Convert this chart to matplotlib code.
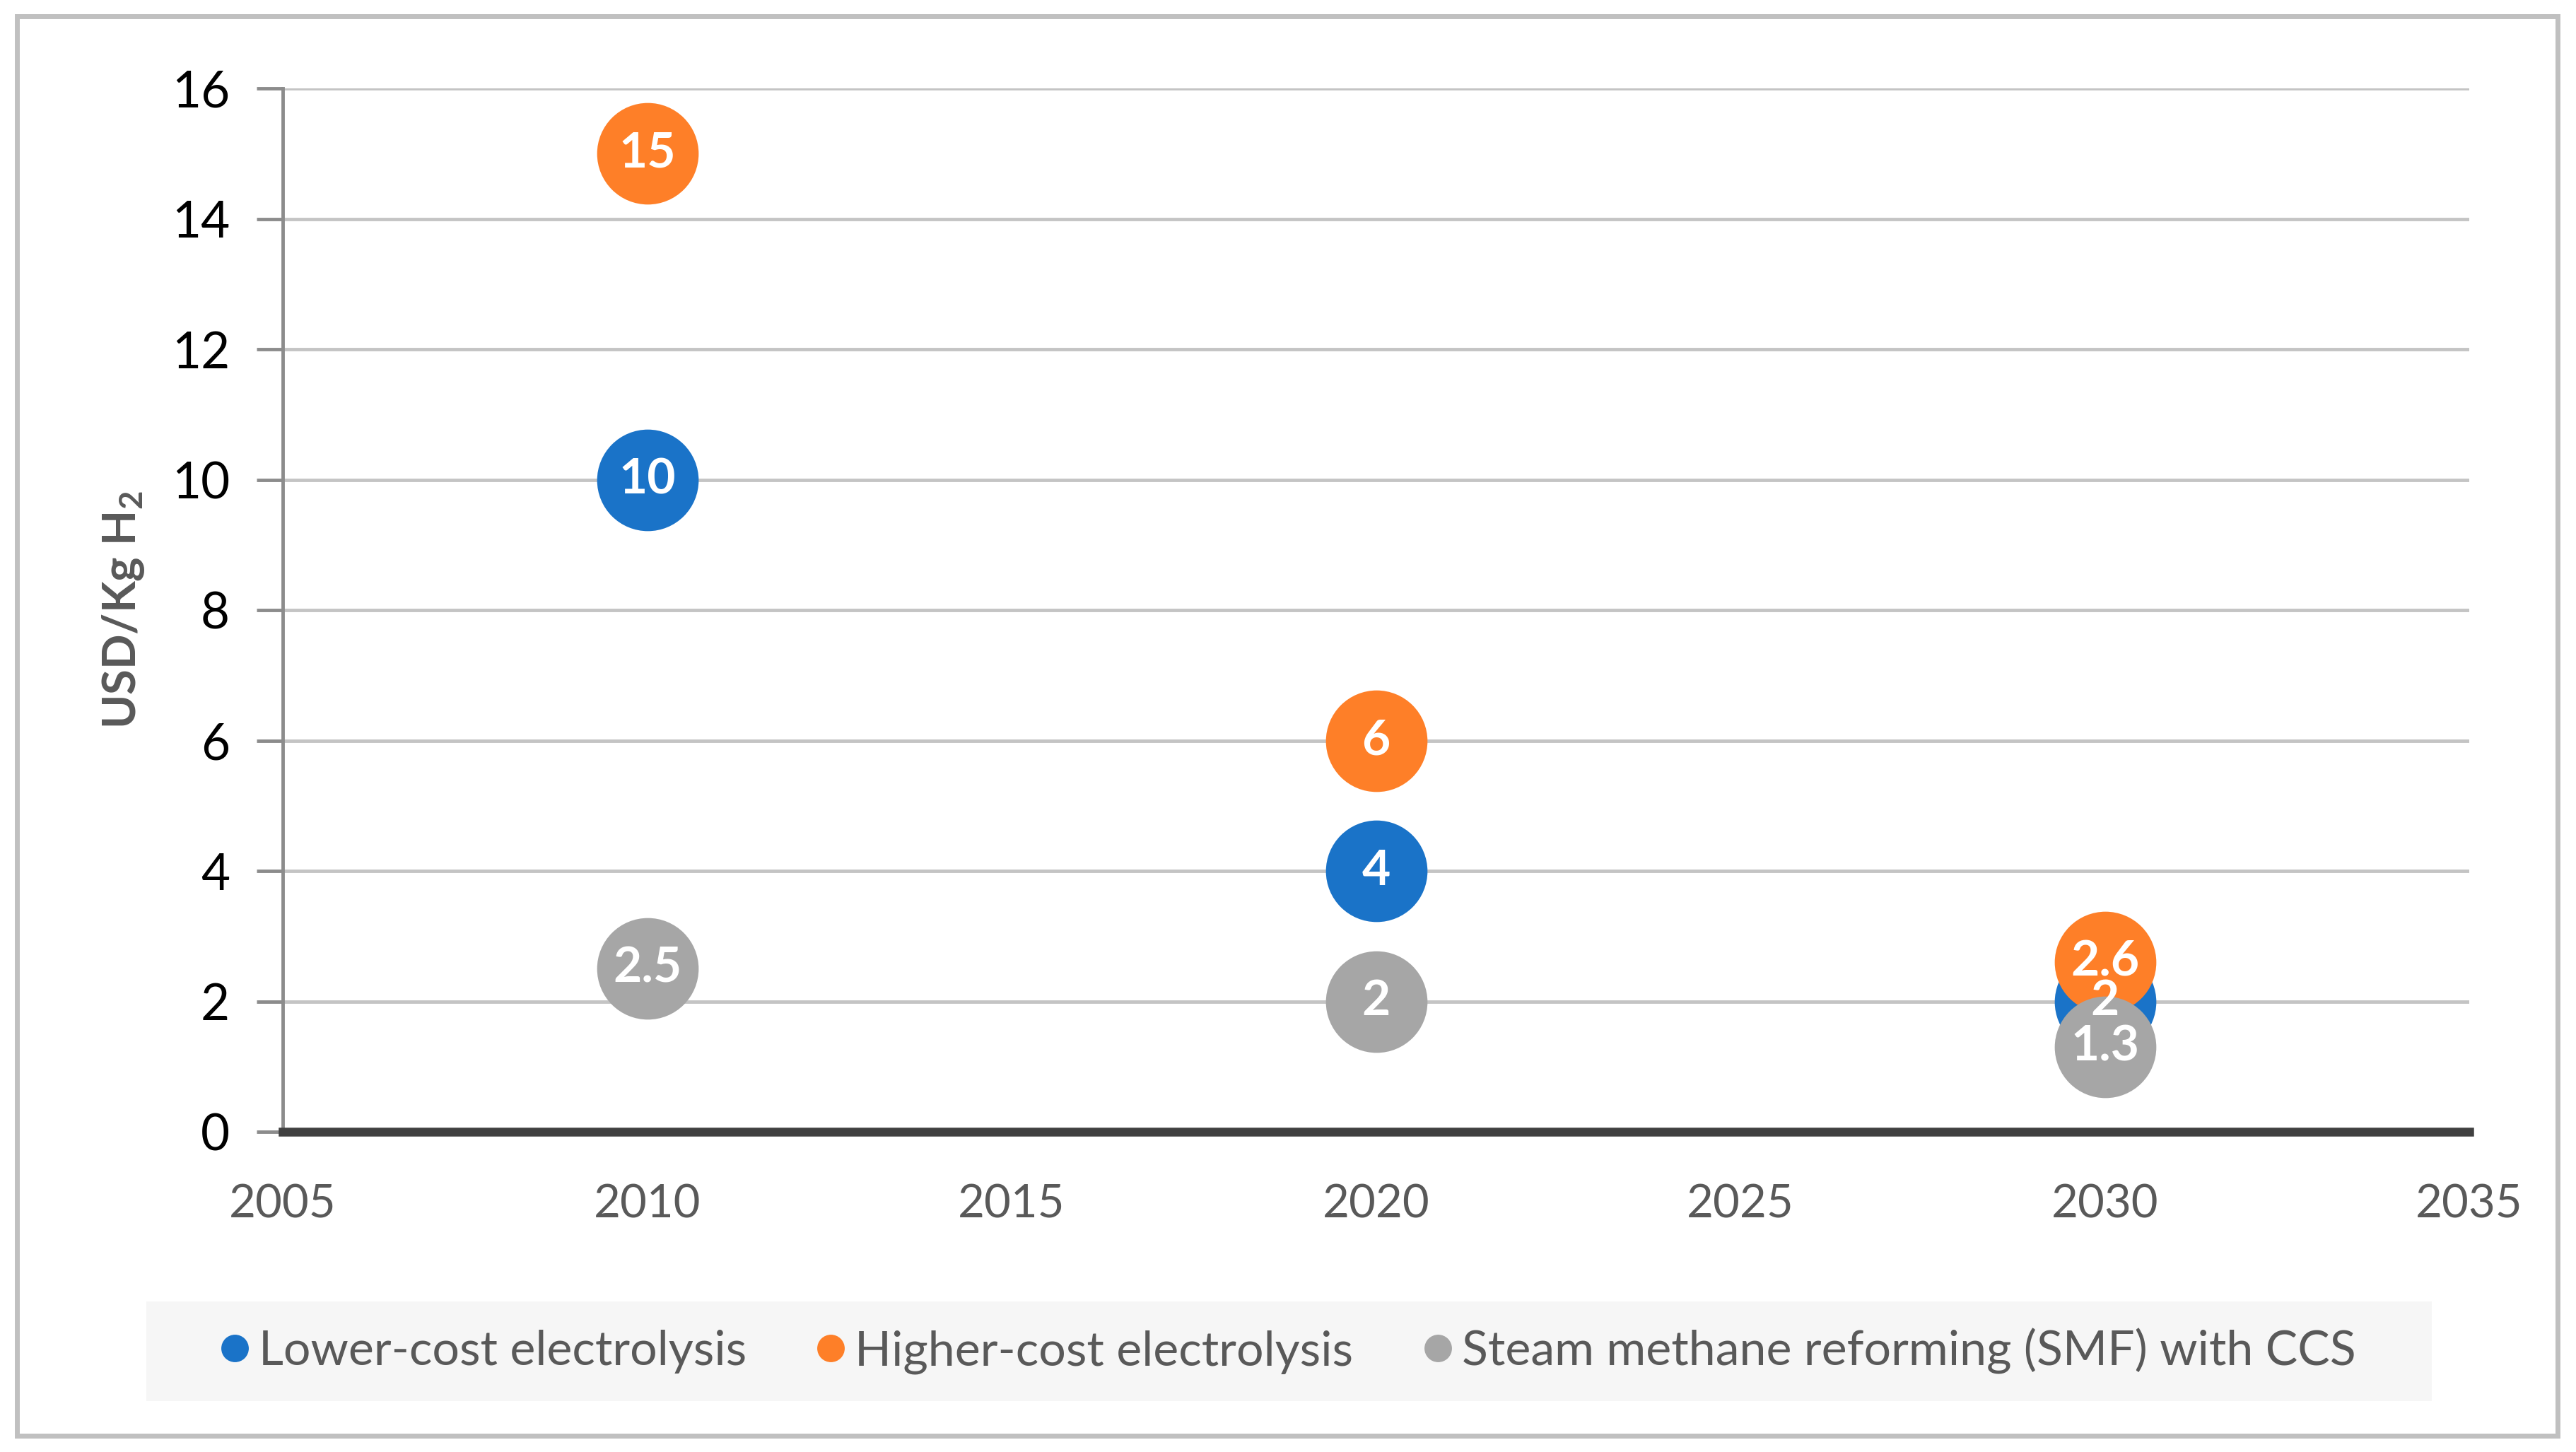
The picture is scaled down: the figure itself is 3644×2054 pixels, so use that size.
import matplotlib
matplotlib.use("Agg")
from matplotlib import pyplot as plt
from matplotlib.patches import Rectangle
from matplotlib.lines import Line2D

plt.rcParams['font.family'] = ['Lato', 'DejaVu Sans']
plt.rcParams['mathtext.fontset'] = 'custom'
plt.rcParams['mathtext.rm'] = 'Lato'
plt.rcParams['mathtext.bf'] = 'Lato:bold'

# data
years = [2010, 2020, 2030]
lower_cost = [10, 4, 2]
higher_cost = [15, 6, 2.6]
smr_ccs = [2.5, 2, 1.3]
series_names = ["Lower-cost electrolysis", "Higher-cost electrolysis",
                "Steam methane reforming (SMF) with CCS"]
colors = ["#1a73c8", "#fe7f28", "#a6a6a6"]
xticks = [2005, 2010, 2015, 2020, 2025, 2030, 2035]
yticks = [0, 2, 4, 6, 8, 10, 12, 14, 16]

fig = plt.figure(figsize=(36.44, 20.54), dpi=100)
ax = fig.add_axes([0.1098, 0.2205, 0.8488, 0.7186])

all_series = [lower_cost, higher_cost, smr_ccs]
for i, (vals, col) in enumerate(zip(all_series, colors)):
    ax.scatter(years, vals, s=10700, color=col, zorder=3 + i, linewidths=0)
for vals in all_series:
    for x, y in zip(years, vals):
        ax.text(x, y, f"{y:g}", ha="center", va="center", color="white",
                fontsize=50, fontweight="bold", zorder=10)

ax.set_xlim(2005, 2035)
ax.set_ylim(0, 16)
ax.set_xticks(xticks)
ax.set_yticks(yticks)
ax.grid(axis="y", color="#c4c4c4", linewidth=3.5)
ax.set_axisbelow(True)
for s in ["top", "right"]:
    ax.spines[s].set_visible(False)
ax.spines["left"].set_color("#8c8c8c")
ax.spines["left"].set_linewidth(3.5)
ax.spines["bottom"].set_color("#404040")
ax.spines["bottom"].set_linewidth(9)
ax.spines["bottom"].set_zorder(20)
ax.tick_params(axis="y", length=27, width=3.5, color="#8c8c8c", labelsize=51,
               labelcolor="#000000", pad=27)
ax.tick_params(axis="x", length=0, labelsize=47, labelcolor="#595959", pad=53)
ax.set_ylabel(r"USD/Kg H$_\mathbf{2}$", fontsize=47, fontweight="bold",
              color="#595959", labelpad=26)

# outer border
fig.patches.append(Rectangle((0.0065, 0.011), 0.9865, 0.978, transform=fig.transFigure,
                             fill=False, edgecolor="#c0c0c0", linewidth=5))
# legend background
fig.patches.append(Rectangle((0.0568, 0.0350), 0.8872, 0.0687, transform=fig.transFigure,
                             facecolor="#f6f6f6", edgecolor="none"))
handles = [Line2D([], [], marker="o", linestyle="none", markersize=28,
                  markerfacecolor=c, markeredgewidth=0) for c in colors]
fig.legend(handles, series_names, loc="center", bbox_to_anchor=(0.5, 0.0696),
           ncol=3, frameon=False, fontsize=49, labelcolor="#595959",
           handlelength=0.6, handletextpad=0.2, columnspacing=1.45)

fig.savefig("out.png")
